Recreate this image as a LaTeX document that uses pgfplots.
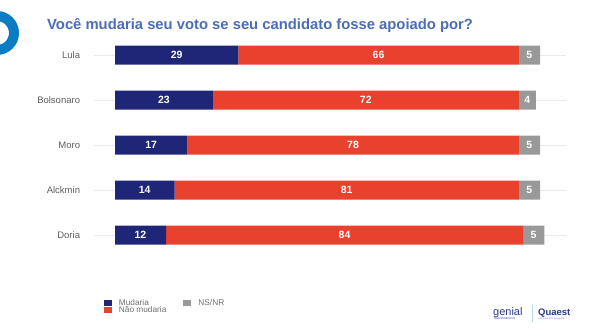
\documentclass[border=0pt]{standalone}
\usepackage{pgfplots}
\pgfplotsset{compat=1.18}
\usepackage{fontspec}
\setmainfont{Liberation Sans}
\definecolor{navy}{RGB}{31,38,120}
\definecolor{redo}{RGB}{232,65,46}
\definecolor{gr}{RGB}{153,153,153}
\definecolor{titleblue}{RGB}{74,110,180}
\definecolor{labelgray}{RGB}{95,95,95}
\definecolor{legendgray}{RGB}{110,110,110}
\definecolor{gridgray}{RGB}{235,235,235}
\definecolor{ringblue}{RGB}{10,124,196}
\definecolor{logoblue}{RGB}{43,57,144}
\begin{document}
\begin{tikzpicture}
\useasboundingbox (0,0) rectangle (599bp,336bp);
\begin{scope}
\clip (0,0) rectangle (599bp,336bp);
\draw[ringblue, line width=10bp] (-3bp,303bp) circle (17bp);
\end{scope}
\node[anchor=base west, inner sep=0pt, font=\fontsize{14.8bp}{16bp}\selectfont\bfseries, text=titleblue] at (47bp,306.7bp) {Você mudaria seu voto se seu candidato fosse apoiado por?};
\begin{axis}[
  at={(93.75bp,78.5bp)}, anchor=south west,
  scale only axis, width=471.75bp, height=225bp,
  xbar stacked, bar width=19bp,
  xmin=-5, xmax=106, ymin=-0.5, ymax=4.5, y dir=reverse,
  ytick={0,1,2,3,4}, yticklabels={Lula,Bolsonaro,Moro,Alckmin,Doria},
  xtick=\empty,
  axis line style={draw=none}, major tick length=0pt,
  ymajorgrids, grid style={draw=gridgray, line width=0.9bp},
  yticklabel style={font=\fontsize{9.5bp}{10bp}\selectfont, text=labelgray, inner sep=0pt, xshift=-13.5bp},
  /pgf/number format/assume math mode=true,
  point meta=rawx,
  nodes near coords,
  every node near coord/.append style={font=\fontsize{10.5bp}{11bp}\selectfont\bfseries, text=white, anchor=center},
  legend style={draw=none, fill=none, font=\fontsize{8.3bp}{8bp}\selectfont, text=legendgray,
    at={(0,0)}, anchor=north west, xshift=7bp, yshift=-40bp,
    nodes={inner sep=0pt, text height=6bp, text depth=1bp},
    /tikz/every odd column/.append style={column sep=7bp},
    /tikz/every even column/.append style={column sep=17bp}},
  legend cell align=left, transpose legend, legend columns=2,
  legend image code/.code={\fill[#1] (0bp,-3bp) rectangle (8bp,3bp);},
]
\addplot[fill=navy, draw=none] coordinates {(29,0) (23,1) (17,2) (14,3) (12,4)};
\addlegendentry{Mudaria}
\addplot[fill=redo, draw=none] coordinates {(66,0) (72,1) (78,2) (81,3) (84,4)};
\addlegendentry{Não mudaria}
\addplot[fill=gr, draw=none] coordinates {(5,0) (4,1) (5,2) (5,3) (5,4)};
\addlegendentry{NS/NR}
\end{axis}
% logos
\node[anchor=base west, inner sep=0pt, font=\fontsize{11bp}{11bp}\selectfont, text=logoblue] at (493bp,21bp) {genial};
\node[anchor=base west, inner sep=0pt, font=\fontsize{2.6bp}{3bp}\selectfont, text=logoblue] at (494bp,16.5bp) {INVESTIMENTOS};
\draw[ringblue!30, line width=0.5bp] (532bp,14bp) -- (532bp,31bp);
\node[anchor=base west, inner sep=0pt, font=\fontsize{9.5bp}{10bp}\selectfont\bfseries, text=logoblue] at (538bp,21bp) {Quaest};
\node[anchor=base west, inner sep=0pt, font=\fontsize{2.6bp}{3bp}\selectfont, text=logoblue!60] at (538bp,16.5bp) {consultoria \& pesquisa};
\end{tikzpicture}
\end{document}
